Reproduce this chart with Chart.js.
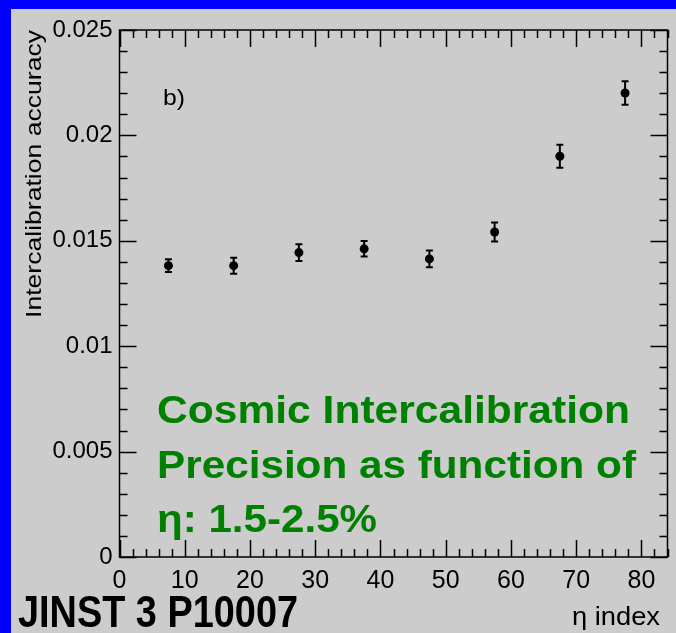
<!DOCTYPE html>
<html>
<head>
<meta charset="utf-8">
<script src="https://cdn.jsdelivr.net/npm/chart.js@4/dist/chart.umd.min.js"></script>
<style>
  html, body { margin: 0; padding: 0; background: #0000ff; }
  #wrap { width: 676px; height: 633px; position: relative; }
  canvas { display: block; }
</style>
</head>
<body>
<div id="wrap"><canvas id="c" width="676" height="633"></canvas></div>
<script>
// Intercalibration accuracy per eta ring group
const etaIndex    = [7.5, 17.5, 27.5, 37.5, 47.5, 57.5, 67.5, 77.5];
const accuracy    = [0.01382, 0.01382, 0.01444, 0.01462, 0.01414, 0.01542, 0.01901, 0.02201];
const accuracyErr = [0.00030, 0.00038, 0.00040, 0.00037, 0.00040, 0.00045, 0.00055, 0.00056];

// Axis ticks
const xTickValues = [0, 10, 20, 30, 40, 50, 60, 70, 80];
const xTickLabels = ['0', '10', '20', '30', '40', '50', '60', '70', '80'];
const yTickValues = [0, 0.005, 0.01, 0.015, 0.02, 0.025];
const yTickLabels = ['0', '0.005', '0.01', '0.015', '0.02', '0.025'];
const xMinorStep = 2;
const yMinorStep = 0.001;

const GREEN = 'rgb(0,128,0)';
const SANS = "'Liberation Sans', Arial, sans-serif";

// Draw a string stretched horizontally to a given width
function fitText(ctx, str, font, x, y, width, color, angle) {
  ctx.save();
  ctx.font = font;
  ctx.fillStyle = color;
  ctx.textAlign = 'left';
  ctx.textBaseline = 'alphabetic';
  const w = ctx.measureText(str).width;
  ctx.translate(x, y);
  if (angle) ctx.rotate(angle);
  ctx.scale(width / w, 1);
  ctx.fillText(str, 0, 0);
  ctx.restore();
}

const rootStyle = {
  id: 'rootStyle',
  beforeDraw(chart) {
    const ctx = chart.ctx;
    ctx.save();
    ctx.fillStyle = '#0000ff';
    ctx.fillRect(0, 0, chart.width, chart.height);
    ctx.fillStyle = '#cccccc';
    ctx.fillRect(11, 9, chart.width - 11, chart.height - 9);
    ctx.restore();
  },
  beforeDatasetsDraw(chart) {
    const ctx = chart.ctx;
    const xs = chart.scales.x, ys = chart.scales.y;
    ctx.save();
    ctx.strokeStyle = '#000';
    ctx.lineWidth = 2;
    etaIndex.forEach((x, i) => {
      const px = xs.getPixelForValue(x);
      const top = ys.getPixelForValue(accuracy[i] + accuracyErr[i]);
      const bot = ys.getPixelForValue(accuracy[i] - accuracyErr[i]);
      ctx.beginPath();
      ctx.moveTo(px, top); ctx.lineTo(px, bot);
      ctx.moveTo(px - 3.5, top); ctx.lineTo(px + 3.5, top);
      ctx.moveTo(px - 3.5, bot); ctx.lineTo(px + 3.5, bot);
      ctx.stroke();
    });
    ctx.restore();
  },
  afterDraw(chart) {
    const ctx = chart.ctx;
    const a = chart.chartArea;
    const xs = chart.scales.x, ys = chart.scales.y;
    ctx.save();
    ctx.strokeStyle = '#000';
    ctx.lineWidth = 1.5;
    ctx.strokeRect(a.left, a.top, a.right - a.left, a.bottom - a.top);

    // inward ticks on all four sides
    ctx.beginPath();
    for (let v = xs.min; v <= xs.max + 1e-9; v += xMinorStep) {
      const px = Math.round(xs.getPixelForValue(v)) + 0.5;
      const major = xTickValues.some(t => Math.abs(t - v) < 1e-9);
      const len = major ? 17 : 8;
      ctx.moveTo(px, a.bottom); ctx.lineTo(px, a.bottom - len);
      ctx.moveTo(px, a.top); ctx.lineTo(px, a.top + len);
    }
    for (let k = 0; k <= Math.round((ys.max - ys.min) / yMinorStep); k++) {
      const v = ys.min + k * yMinorStep;
      const py = Math.round(ys.getPixelForValue(v)) + 0.5;
      const major = yTickValues.some(t => Math.abs(t - v) < 1e-9);
      const len = major ? 17 : 8;
      ctx.moveTo(a.left, py); ctx.lineTo(a.left + len, py);
      ctx.moveTo(a.right, py); ctx.lineTo(a.right - len, py);
    }
    ctx.stroke();
    ctx.restore();

    // axis titles and annotations
    fitText(ctx, 'Intercalibration accuracy', '22px ' + SANS, 41, 318, 288, '#000', -Math.PI / 2);
    fitText(ctx, '\u03b7 index', '25px ' + SANS, 572, 625, 88, '#000');
    fitText(ctx, 'b)', '22px ' + SANS, 163, 105, 22, '#000');
    fitText(ctx, 'JINST 3 P10007', 'bold 44px ' + SANS, 18, 627, 280, '#000');
    fitText(ctx, 'Cosmic Intercalibration', 'bold 38px ' + SANS, 157, 423, 473, GREEN);
    fitText(ctx, 'Precision as function of', 'bold 38px ' + SANS, 157, 478, 479, GREEN);
    fitText(ctx, '\u03b7: 1.5-2.5%', 'bold 38px ' + SANS, 157, 532, 220, GREEN);
  }
};

new Chart(document.getElementById('c'), {
  type: 'scatter',
  data: {
    datasets: [{
      data: etaIndex.map((x, i) => ({ x: x, y: accuracy[i] })),
      backgroundColor: '#000',
      borderColor: '#000',
      borderWidth: 0,
      pointRadius: 4.5,
      pointHoverRadius: 4.5
    }]
  },
  options: {
    responsive: false,
    animation: false,
    devicePixelRatio: 1,
    layout: { padding: { left: 0, top: 30, right: 8.5, bottom: 0 } },
    plugins: { legend: { display: false }, tooltip: { enabled: false } },
    scales: {
      x: {
        type: 'linear', min: 0, max: 84,
        grid: { display: false, drawTicks: false },
        border: { display: false },
        afterBuildTicks: s => { s.ticks = xTickValues.map(v => ({ value: v })); },
        afterFit: s => { s.height = 76; },
        ticks: {
          autoSkip: false, maxRotation: 0, minRotation: 0, padding: 9,
          color: '#000',
          font: { family: SANS, size: 25 },
          callback: (v, i) => xTickLabels[i]
        }
      },
      y: {
        type: 'linear', min: 0, max: 0.025,
        grid: { display: false, drawTicks: false },
        border: { display: false },
        afterBuildTicks: s => { s.ticks = yTickValues.map(v => ({ value: v })); },
        afterFit: s => { s.width = 119.5; },
        ticks: {
          autoSkip: false, padding: 7,
          color: '#000',
          font: { family: SANS, size: 24 },
          callback: (v, i) => yTickLabels[i]
        }
      }
    }
  },
  plugins: [rootStyle]
});
</script>
</body>
</html>
